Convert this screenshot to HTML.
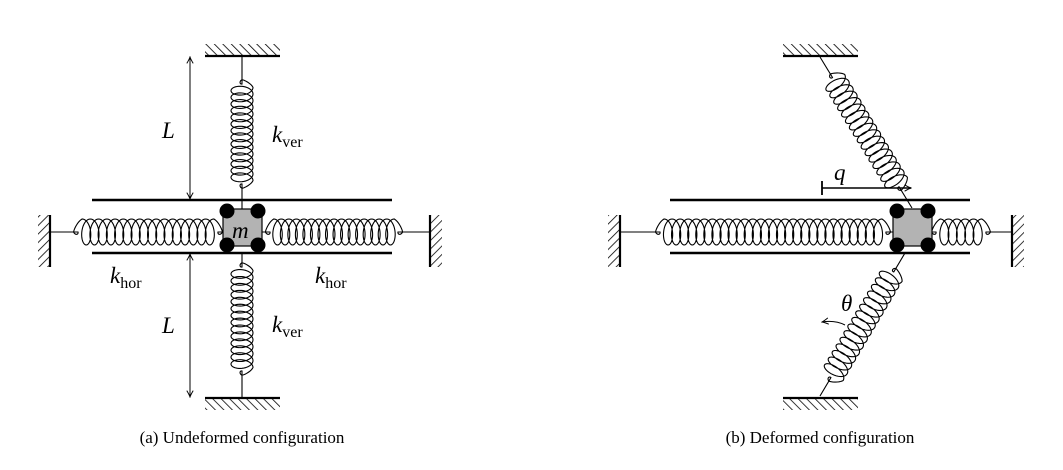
<!DOCTYPE html>
<html><head><meta charset="utf-8"><style>
body{margin:0;background:#fff;width:1063px;height:470px;overflow:hidden}
svg{position:absolute;left:0;top:0}
text{font-family:"Liberation Serif",serif;fill:#000}
.it{font-style:italic;font-size:23px}
.sub{font-size:16px;font-style:normal}
</style></head><body>
<svg id="s" width="1063" height="470" viewBox="0 0 1063 470">
<defs>
<pattern id="h" width="6" height="6" patternUnits="userSpaceOnUse" patternTransform="rotate(45)">
<line x1="0" y1="0" x2="0" y2="6" stroke="#000" stroke-width="1.6"/></pattern>
<pattern id="h2" width="6" height="6" patternUnits="userSpaceOnUse" patternTransform="rotate(-45)">
<line x1="0" y1="0" x2="0" y2="6" stroke="#000" stroke-width="1.6"/></pattern>
<marker id="ar" viewBox="0 0 10 10" refX="9" refY="5" markerWidth="8" markerHeight="8" orient="auto-start-reverse" markerUnits="userSpaceOnUse">
<path d="M1,1 Q6,4 9,5 Q6,6 1,9" fill="none" stroke="#000" stroke-width="1.2"/></marker>
</defs>
<g id="g" fill="none" stroke="#000" stroke-width="1.1"></g>
<rect x="205" y="44" width="75" height="12" fill="url(#h2)"/>
<line x1="205" y1="56" x2="280" y2="56" stroke="#000" stroke-width="2.2"/>
<rect x="205" y="398" width="75" height="12" fill="url(#h2)"/>
<line x1="205" y1="398" x2="280" y2="398" stroke="#000" stroke-width="2.2"/>
<rect x="38" y="215" width="12" height="52" fill="url(#h)"/>
<line x1="50" y1="215" x2="50" y2="267" stroke="#000" stroke-width="2.2"/>
<rect x="430" y="215" width="12" height="52" fill="url(#h)"/>
<line x1="430" y1="215" x2="430" y2="267" stroke="#000" stroke-width="2.2"/>
<line x1="92" y1="200" x2="392" y2="200" stroke="#000" stroke-width="2.4"/>
<line x1="92" y1="253" x2="392" y2="253" stroke="#000" stroke-width="2.4"/>
<line x1="190" y1="57" x2="190" y2="199" stroke="#000" stroke-width="1" marker-start="url(#ar)" marker-end="url(#ar)"/>
<line x1="190" y1="254" x2="190" y2="397" stroke="#000" stroke-width="1" marker-start="url(#ar)" marker-end="url(#ar)"/>
<rect x="223" y="209" width="39" height="37" fill="#b3b3b3" stroke="#000" stroke-width="1.2"/>
<circle cx="227" cy="211" r="7.5"/><circle cx="258" cy="211" r="7.5"/>
<circle cx="227" cy="245" r="7.5"/><circle cx="258" cy="245" r="7.5"/>
<text class="it" x="232" y="238">m</text>
<text class="it" x="162" y="138">L</text>
<text class="it" x="162" y="333">L</text>
<text class="it" x="272" y="142">k<tspan class="sub" dy="5">ver</tspan></text>
<text class="it" x="272" y="332">k<tspan class="sub" dy="5">ver</tspan></text>
<text class="it" x="110" y="283">k<tspan class="sub" dy="5">hor</tspan></text>
<text class="it" x="315" y="283">k<tspan class="sub" dy="5">hor</tspan></text>
<text x="242" y="443" font-size="17" text-anchor="middle">(a) Undeformed configuration</text>
<rect x="783" y="44" width="75" height="12" fill="url(#h2)"/>
<line x1="783" y1="56" x2="858" y2="56" stroke="#000" stroke-width="2.2"/>
<rect x="783" y="398" width="75" height="12" fill="url(#h2)"/>
<line x1="783" y1="398" x2="858" y2="398" stroke="#000" stroke-width="2.2"/>
<rect x="608" y="215" width="12" height="52" fill="url(#h)"/>
<line x1="620" y1="215" x2="620" y2="267" stroke="#000" stroke-width="2.2"/>
<rect x="1012" y="215" width="12" height="52" fill="url(#h)"/>
<line x1="1012" y1="215" x2="1012" y2="267" stroke="#000" stroke-width="2.2"/>
<line x1="670" y1="200" x2="970" y2="200" stroke="#000" stroke-width="2.4"/>
<line x1="670" y1="253" x2="970" y2="253" stroke="#000" stroke-width="2.4"/>
<rect x="893" y="209" width="39" height="37" fill="#b3b3b3" stroke="#000" stroke-width="1.2"/>
<circle cx="897" cy="211" r="7.5"/><circle cx="928" cy="211" r="7.5"/>
<circle cx="897" cy="245" r="7.5"/><circle cx="928" cy="245" r="7.5"/>
<line x1="822" y1="188" x2="911" y2="188" stroke="#000" stroke-width="1.6" marker-end="url(#ar)"/>
<line x1="822" y1="181" x2="822" y2="195" stroke="#000" stroke-width="1.8"/>
<text class="it" x="834" y="180">q</text>
<path d="M845,325 Q835,320 822,322" fill="none" stroke="#000" stroke-width="1" marker-end="url(#ar)"/>
<text class="it" x="841" y="311">θ</text>
<text x="820" y="443" font-size="17" text-anchor="middle">(b) Deformed configuration</text>
</svg>
<script>
var g=document.getElementById('g'),NS='http://www.w3.org/2000/svg';
function P(d){var p=document.createElementNS(NS,'path');p.setAttribute('d',d);g.appendChild(p);}
function coil(x0,y0,x1,y1,a,b,n,r,ax){
 var dx=x1-x0,dy=y1-y0,L=Math.hypot(dx,dy),ux=dx/L,uy=dy/L,vx=-uy,vy=ux;
 var ax0=x0+ux*a,ay0=y0+uy*a,len=b-a;
 var d='M'+x0+','+y0+' L'+ax0.toFixed(2)+','+ay0.toFixed(2);
 var N=n*40;
 for(var i=0;i<=N;i++){var t=i/N,th=t*n*2*Math.PI;
  var e=Math.min(1,t*n*2,(1-t)*n*2);
  var uu=t*len-ax*Math.sin(th)*Math.min(1,e*2);
  var vv=-(r*(1-Math.cos(th))-r)*e;
  var X=ax0+ux*uu+vx*vv,Y=ay0+uy*uu+vy*vv;d+=' L'+X.toFixed(2)+','+Y.toFixed(2);}
 var bx=x0+ux*b,by=y0+uy*b;d+=' L'+bx.toFixed(2)+','+by.toFixed(2)+' L'+x1+','+y1;P(d);}
coil(242,56,242,209,28,128,15,11,6);
coil(242,253,242,398,14,118,15,11,6);
coil(50,232,223,232,28,168,17,13,6.5);
coil(262,232,430,232,8,136,17,13,6.5);
coil(620,232,893,232,40,266,28,13,6.5);
coil(932,232,1012,232,4,54,6,13,6.5);
coil(820,57,912,208,24,152,17,12,6);
coil(905,253,820,396,22,145,16,12,6);
</script>
</body></html>
